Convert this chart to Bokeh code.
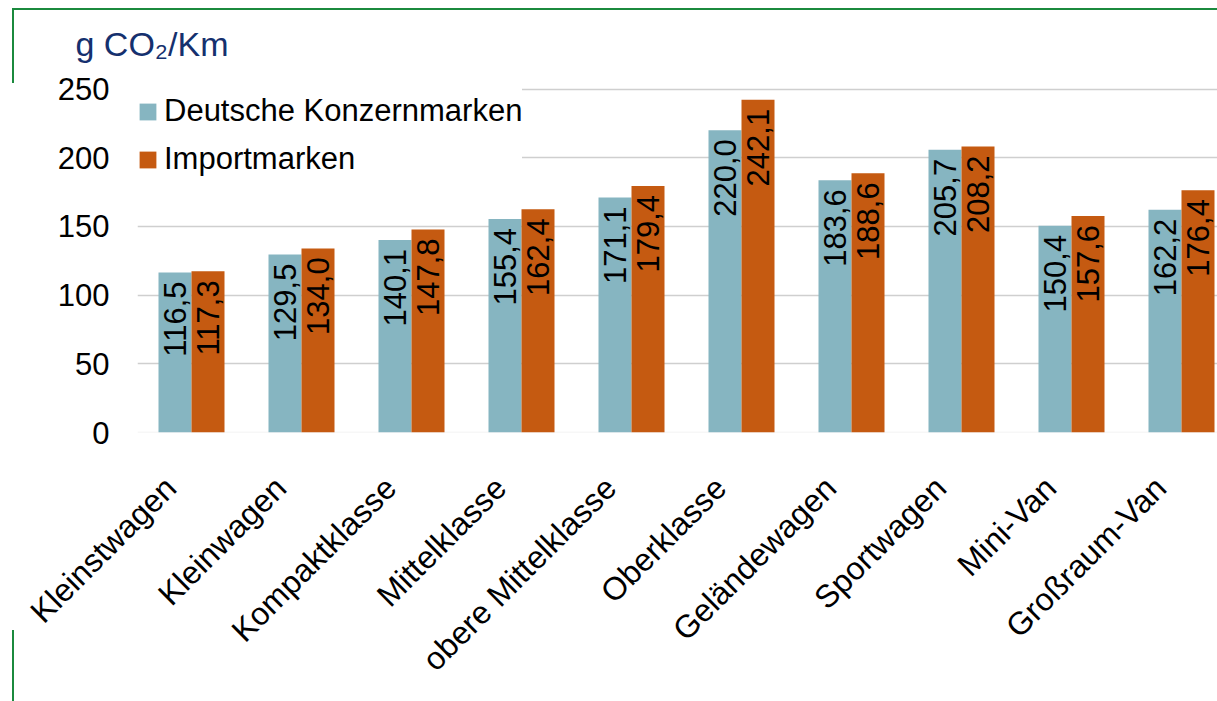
import numpy as np
from bokeh.plotting import figure
from bokeh.models import (ColumnDataSource, Range1d, FixedTicker, Legend, LegendItem, Span)
from bokeh.core.properties import value
from bokeh.embed import file_html
from bokeh.resources import INLINE

# ---- data ----
categories = ["Kleinstwagen", "Kleinwagen", "Kompaktklasse", "Mittelklasse",
              "obere Mittelklasse", "Oberklasse", "Geländewagen", "Sportwagen",
              "Mini-Van", "Großraum-Van"]
deutsche = [116.5, 129.5, 140.1, 155.4, 171.1, 220.0, 183.6, 205.7, 150.4, 162.2]
importm = [117.3, 134.0, 147.8, 162.4, 179.4, 242.1, 188.6, 208.2, 157.6, 176.4]
series_names = ["Deutsche Konzernmarken", "Importmarken"]
y_ticks = [0, 50, 100, 150, 200, 250]
unit_title = "g CO\u2082/Km"

# ---- style ----
TEAL = "#86B5C1"
ORANGE = "#C55A11"
NAVY = "#15306E"
GREEN = "#1B8A3E"
FONT = "Liberation Sans"


def fmt(v):
    return f"{v:.1f}".replace(".", ",")


idx = np.arange(len(categories))
bw = 0.3
src_d = ColumnDataSource(dict(x=idx - bw / 2, top=deutsche, label=[fmt(v) for v in deutsche]))
src_i = ColumnDataSource(dict(x=idx + bw / 2, top=importm, label=[fmt(v) for v in importm]))

W, H = 1217, 701
FL, FB, FT = 137, 432, 71  # frame left, bottom, top in canvas px
PX_PER_UNIT = 1.374
y_end = (FB - FT) / PX_PER_UNIT
x_start = -(191 - FL) / 110.0
x_end = x_start + (W - FL) / 110.0

p = figure(width=W, height=H, output_backend="svg", toolbar_location=None,
           x_range=Range1d(x_start, x_end), y_range=Range1d(0, y_end),
           min_border_left=FL, min_border_right=0, min_border_top=FT,
           min_border_bottom=H - FB)
p.outline_line_color = None
p.background_fill_color = "white"
p.border_fill_color = "white"
p.border_fill_alpha = 0.0
p.styles = {
    "background-color": "white",
    "background-image": ", ".join([f"linear-gradient({GREEN}, {GREEN})"] * 3),
    "background-size": "1205px 2px, 2px 75px, 2px 71px",
    "background-position": "12px 8px, 12px 8px, 12px 630px",
    "background-repeat": "no-repeat",
}

r1 = p.vbar(x="x", top="top", width=bw, bottom=0, source=src_d,
            fill_color=TEAL, line_color=None)
r2 = p.vbar(x="x", top="top", width=bw, bottom=0, source=src_i,
            fill_color=ORANGE, line_color=None)

for src in (src_d, src_i):
    p.text(x="x", y="top", text="label", source=src, angle=np.pi / 2,
           text_align="right", text_baseline="middle", y_offset=9,
           text_font=value(FONT), text_font_size="31px", text_color="black")

# axes
shift = 0.19
xt = [float(i) - shift for i in idx]
p.xaxis.ticker = FixedTicker(ticks=xt)
p.xaxis.major_label_overrides = {t: c for t, c in zip(xt, categories)}
p.xaxis.major_label_orientation = np.pi / 4
p.xaxis.major_label_text_font_size = "32px"
p.xaxis.major_label_text_font = FONT
p.xaxis.major_label_text_color = "black"
p.xaxis.major_label_standoff = 50
p.yaxis.ticker = FixedTicker(ticks=y_ticks)
p.yaxis.major_label_text_font_size = "31px"
p.yaxis.major_label_text_font = FONT
p.yaxis.major_label_text_color = "black"
p.yaxis.major_label_standoff = 28
for ax in (p.xaxis, p.yaxis):
    ax.axis_line_color = None
    ax.major_tick_line_color = None
    ax.minor_tick_line_color = None
    ax.major_tick_out = 0
    ax.major_tick_in = 0
    ax.minor_tick_out = 0
    ax.minor_tick_in = 0

p.xgrid.visible = False
p.ygrid.ticker = FixedTicker(ticks=y_ticks[1:])
p.ygrid.grid_line_color = "#CFCFCF"
p.ygrid.grid_line_width = 1.5
p.add_layout(Span(location=0, dimension="width", line_color="#F0F0F0",
                  line_width=1.5, level="underlay"))

legend = Legend(items=[LegendItem(label=series_names[0], renderers=[r1]),
                       LegendItem(label=series_names[1], renderers=[r2])],
                location=(0, FB - 183), padding=0, margin=0, spacing=0,
                glyph_width=21, glyph_height=21, label_height=48,
                label_standoff=6, label_text_font=FONT,
                label_text_font_size="31px", label_text_color="black",
                border_line_color=None, background_fill_color="white",
                background_fill_alpha=1.0)
p.add_layout(legend)

# unit title
p.title.text = unit_title
p.title.text_font = FONT
p.title.text_font_size = "34px"
p.title.text_font_style = "normal"
p.title.text_color = NAVY
p.title.align = "left"
p.title.offset = -62
p.title.standoff = 18

open("out.html", "w").write(file_html(p, INLINE))
